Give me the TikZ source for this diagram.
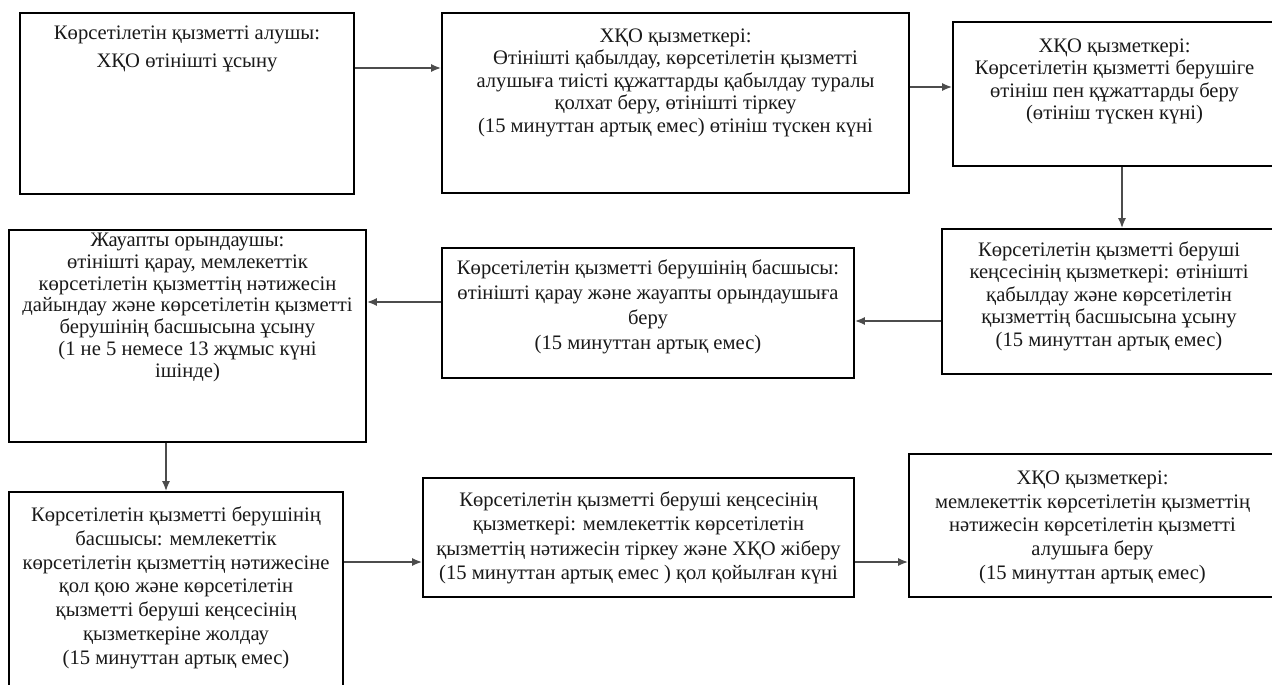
\documentclass[tikz,border=0pt]{standalone}
\usepackage{fontspec}
\setmainfont{Liberation Serif}
\usetikzlibrary{arrows.meta}
\begin{document}
\begin{tikzpicture}[x=1pt,y=-1pt,
  box/.style={draw=black, line width=1.6pt, fill=white, inner sep=0pt},
  txt/.style={anchor=north, align=center, inner sep=0pt, text=black!90},
  arr/.style={draw=black!70, line width=1.8pt, -{Latex[length=10pt,width=8pt]}}]
\useasboundingbox (0,0) rectangle (1272,685);
\clip (0,0) rectangle (1272,685);

% process boxes
\node[box, minimum width=334pt, minimum height=181pt] (b1) at (187,103.5) {};
\node[box, minimum width=467pt, minimum height=180pt] (b2) at (675.5,103) {};
\node[box, minimum width=323pt, minimum height=144pt] (b3) at (1114.5,94) {};
\node[box, minimum width=334pt, minimum height=145pt] (b4) at (1109,301.5) {};
\node[box, minimum width=412pt, minimum height=130pt] (b5) at (648,313) {};
\node[box, minimum width=357pt, minimum height=212pt] (b6) at (187.5,336) {};
\node[box, minimum width=334pt, minimum height=208pt] (b7) at (176,596) {};
\node[box, minimum width=431pt, minimum height=119pt] (b8) at (638.5,537.5) {};
\node[box, minimum width=367pt, minimum height=143pt] (b9) at (1092.5,525.5) {};

% box texts
\node[txt, font=\fontsize{20.6}{28}\selectfont] (t1) at ([yshift=-11pt]b1.north)
  {\rule{0pt}{16pt}Көрсетілетін қызметті алушы:\\ ХҚО өтінішті ұсыну};
\node[txt, font=\fontsize{20.6}{22.5}\selectfont] (t2) at ([yshift=-14pt]b2.north)
  {\rule{0pt}{16pt}ХҚО қызметкері:\\ Өтінішті қабылдау, көрсетілетін қызметті\\ алушыға тиісті құжаттарды қабылдау туралы\\ қолхат беру, өтінішті тіркеу\\ (15 минуттан артық емес) өтініш түскен күні};
\node[txt, font=\fontsize{20.6}{22.3}\selectfont] (t3) at ([yshift=-15pt]b3.north)
  {\rule{0pt}{16pt}ХҚО қызметкері:\\ Көрсетілетін қызметті берушіге\\ өтініш пен құжаттарды беру\\ (өтініш түскен күні)};
\node[txt, font=\fontsize{20.6}{22.5}\selectfont] (t4) at ([yshift=-12pt]b4.north)
  {\rule{0pt}{16pt}Көрсетілетін қызметті беруші\\ кеңсесінің қызметкері: өтінішті\\ қабылдау және  көрсетілетін\\ қызметтің басшысына ұсыну\\ (15 минуттан артық емес)};
\node[txt, font=\fontsize{20.6}{25}\selectfont] (t5) at ([yshift=-11pt]b5.north)
  {\rule{0pt}{16pt}Көрсетілетін қызметті берушінің басшысы:\\ өтінішті қарау және жауапты орындаушыға\\ беру\\ (15 минуттан артық емес)};
\node[txt, font=\fontsize{20.6}{21.8}\selectfont] (t6) at ([yshift=-1pt]b6.north)
  {\rule{0pt}{16pt}Жауапты орындаушы:\\ өтінішті қарау, мемлекеттік\\ көрсетілетін қызметтің нәтижесін\\ дайындау және көрсетілетін қызметті\\ берушінің басшысына ұсыну\\ (1 не 5  немесе 13 жұмыс күні\\ ішінде)};
\node[txt, font=\fontsize{20.6}{23.8}\selectfont] (t7) at ([yshift=-14pt]b7.north)
  {\rule{0pt}{16pt}Көрсетілетін қызметті берушінің\\ басшысы: мемлекеттік\\ көрсетілетін қызметтің нәтижесіне\\ қол қою және көрсетілетін\\ қызметті беруші кеңсесінің\\ қызметкеріне жолдау\\ (15 минуттан артық емес)};
\node[txt, font=\fontsize{20.6}{24.3}\selectfont] (t8) at ([yshift=-13pt]b8.north)
  {\rule{0pt}{16pt}Көрсетілетін қызметті беруші кеңсесінің\\ қызметкері: мемлекеттік көрсетілетін\\ қызметтің нәтижесін тіркеу және ХҚО жіберу\\ (15 минуттан артық емес ) қол қойылған күні};
\node[txt, font=\fontsize{20.6}{23.7}\selectfont] (t9) at ([yshift=-15pt]b9.north)
  {\rule{0pt}{16pt}ХҚО қызметкері:\\ мемлекеттік көрсетілетін қызметтің\\ нәтижесін көрсетілетін қызметті\\ алушыға беру\\ (15 минуттан артық емес)};

% connector levels
\coordinate (y1) at (0,68);
\coordinate (y2) at (0,87);
\coordinate (x3) at (1122,0);
\coordinate (y4) at (0,321);
\coordinate (y5) at (0,302);
\coordinate (x6) at (166,0);
\coordinate (y7) at (0,562);

% connectors
\draw[arr] (b1.east |- y1) -- (b2.west |- y1);
\draw[arr] (b2.east |- y2) -- (b3.west |- y2);
\draw[arr] (b3.south -| x3) -- (b4.north -| x3);
\draw[arr] (b4.west |- y4) -- (b5.east |- y4);
\draw[arr] (b5.west |- y5) -- (b6.east |- y5);
\draw[arr] (b6.south -| x6) -- (b7.north -| x6);
\draw[arr] (b7.east |- y7) -- (b8.west |- y7);
\draw[arr] (b8.east |- y7) -- (b9.west |- y7);
\end{tikzpicture}
\end{document}
